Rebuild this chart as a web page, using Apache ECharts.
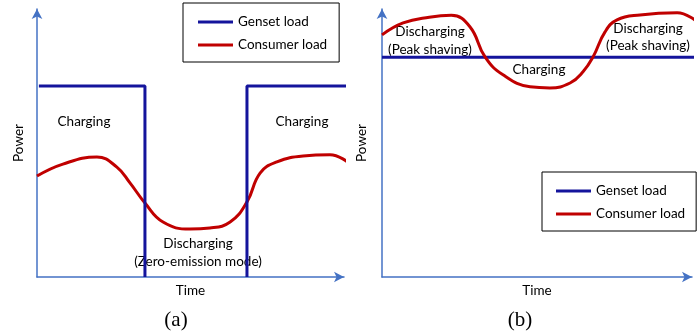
<!DOCTYPE html>
<html>
<head>
<meta charset="utf-8">
<script src="https://cdn.jsdelivr.net/npm/echarts@6/dist/echarts.min.js"></script>
<style>
html,body{margin:0;padding:0;background:#fff;}
#main{width:698px;height:336px;}
</style>
</head>
<body>
<div id="main"></div>
<script>
// (a) zero-emission mode
var timeA = [0, 8.3, 19.2, 25.6, 29.8, 34.6, 40.4, 49.0, 55.4, 61.9, 67.3, 71.5, 76.9, 85.3, 93.9, 100];
var consumerA = [37.1, 41.5, 44.1, 40.4, 34.6, 27.2, 20.2, 17.6, 18.0, 20.2, 27.6, 38.2, 42.3, 44.5, 44.9, 41.9];
var gensetA = {start: 0.6, off: 34.6, on: 67.3, end: 100, level: 70.2};

// (b) peak shaving
var timeB = [0, 6.7, 15.0, 22.0, 27.9, 32.7, 38.4, 47.0, 53.3, 59.7, 63.8, 67.0, 70.8, 74.6, 81.9, 93.7, 100];
var consumerB = [89.0, 93.4, 95.5, 96.2, 92.0, 80.9, 74.3, 69.9, 69.5, 71.3, 75.4, 80.9, 90.1, 94.5, 96.3, 97.1, 93.8];
var gensetB = {start: 0, end: 100, level: 80.8};

var legendNames = ['Genset load', 'Consumer load'];

var blue = '#14149c';
var red = '#c00000';
var axisBlue = '#4472c4';
var font = 'Lato, "Open Sans", sans-serif';

function pairs(xs, ys) {
    var out = [];
    for (var i = 0; i < xs.length; i++) {
        out.push([xs[i], ys[i]]);
    }
    return out;
}

function xAxisOf(idx, max) {
    return {
        type: 'value', gridIndex: idx, min: 0, max: max,
        name: 'Time', nameLocation: 'middle', nameGap: 7,
        nameTextStyle: {fontFamily: font, fontSize: 13.5, color: '#000'},
        axisLine: {show: true, symbol: ['none', 'arrow'], symbolSize: [8, 10],
            lineStyle: {color: axisBlue, width: 1.5}},
        axisTick: {show: false}, axisLabel: {show: false}, splitLine: {show: false}
    };
}

function yAxisOf(idx, gap) {
    return {
        type: 'value', gridIndex: idx, min: 0, max: 98.5,
        name: 'Power', nameLocation: 'middle', nameGap: gap,
        nameTextStyle: {fontFamily: font, fontSize: 13.5, color: '#000'},
        axisLine: {show: true, symbol: ['none', 'arrow'], symbolSize: [8, 10],
            lineStyle: {color: axisBlue, width: 1.5}},
        axisTick: {show: false}, axisLabel: {show: false}, splitLine: {show: false}
    };
}

// legend boxes: plain line swatches, black frame
function legendAt(left, top, pad) {
    return {
        data: legendNames, orient: 'vertical', left: left, top: top,
        icon: 'rect', itemWidth: 35, itemHeight: 3, itemGap: 9, padding: pad,
        borderColor: '#000', borderWidth: 1, selectedMode: false,
        textStyle: {fontFamily: font, fontSize: 13.5, color: '#000', lineHeight: 14}
    };
}

function label(text, x, y, size, family) {
    return {
        type: 'text', x: x, y: y, silent: true,
        style: {text: text, fill: '#000', font: size + 'px ' + (family || font),
            align: 'center', verticalAlign: 'middle'}
    };
}

var lineBase = {type: 'line', symbol: 'none', clip: false, animation: false};

var myChart = echarts.init(document.getElementById('main'));
myChart.setOption({
    animation: false,
    grid: [
        {left: 37, top: 9, width: 307, height: 268},
        {left: 382, top: 9, width: 310, height: 268}
    ],
    xAxis: [xAxisOf(0, 98.4), xAxisOf(1, 98.4)],
    yAxis: [yAxisOf(0, 11), yAxisOf(1, 13)],
    legend: [
        legendAt(183, 3, [12, 12, 10, 15]),
        legendAt(542, 172, [12, 11, 10, 14])
    ],
    series: [
        Object.assign({}, lineBase, {
            name: 'Consumer load', xAxisIndex: 0, yAxisIndex: 0, smooth: 0.45,
            lineStyle: {color: red, width: 3}, itemStyle: {color: red},
            data: pairs(timeA, consumerA)
        }),
        Object.assign({}, lineBase, {
            name: 'Genset load', xAxisIndex: 0, yAxisIndex: 0,
            lineStyle: {color: blue, width: 3}, itemStyle: {color: blue},
            data: [[gensetA.start, gensetA.level], [gensetA.off, gensetA.level], [gensetA.off, 0]]
        }),
        Object.assign({}, lineBase, {
            name: 'Genset load', xAxisIndex: 0, yAxisIndex: 0,
            lineStyle: {color: blue, width: 3}, itemStyle: {color: blue},
            data: [[gensetA.on, 0], [gensetA.on, gensetA.level], [gensetA.end, gensetA.level]]
        }),
        Object.assign({}, lineBase, {
            name: 'Genset load', xAxisIndex: 1, yAxisIndex: 1,
            lineStyle: {color: blue, width: 3}, itemStyle: {color: blue},
            data: [[gensetB.start, gensetB.level], [gensetB.end, gensetB.level]]
        }),
        Object.assign({}, lineBase, {
            name: 'Consumer load', xAxisIndex: 1, yAxisIndex: 1, smooth: 0.45,
            lineStyle: {color: red, width: 3}, itemStyle: {color: red},
            data: pairs(timeB, consumerB)
        })
    ],
    graphic: [
        label('Charging', 84, 122, 13.5),
        label('Charging', 302, 122, 13.5),
        label('Discharging', 198, 244, 13.5),
        label('(Zero-emission mode)', 198, 262, 13.5),
        label('Discharging', 430, 32, 13.5),
        label('(Peak shaving)', 430, 50, 13.5),
        label('Discharging', 648, 29, 13.5),
        label('(Peak shaving)', 648, 46, 13.5),
        label('Charging', 539, 70, 13.5),
        label('(a)', 176, 320, 21, '"Liberation Serif", serif'),
        label('(b)', 520, 320, 21, '"Liberation Serif", serif')
    ]
});
</script>
</body>
</html>
